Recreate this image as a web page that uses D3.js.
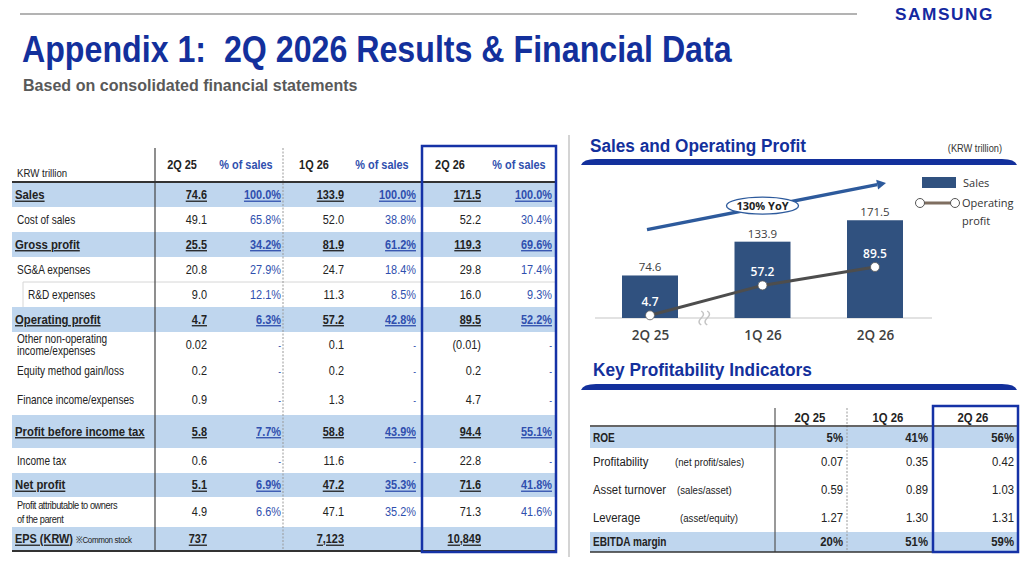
<!DOCTYPE html>
<html><head><meta charset="utf-8">
<script src="https://cdn.jsdelivr.net/npm/d3@7"></script>
<style>
body{margin:0;background:#fff;}
svg{display:block;}
.t{font-family:"Liberation Sans",Arial,sans-serif;}
.c{font-family:"Open Sans","Noto Sans",sans-serif;}
</style></head><body>
<svg id="c" width="1024" height="561"></svg>
<script>
// ---------- DATA ----------
const rowLabels = ["Sales","Cost of sales","Gross profit","SG&A expenses","R&D expenses","Operating profit",
  "Other non-operating\nincome/expenses","Equity method gain/loss","Finance income/expenses",
  "Profit before income tax","Income tax","Net profit","Profit attributable to owners\nof the parent","EPS (KRW)"];
const highlightRows = ["Sales","Gross profit","Operating profit","Profit before income tax","Net profit","EPS (KRW)"];
const tableHeaders = ["2Q 25","% of sales","1Q 26","% of sales","2Q 26","% of sales"];
const val2Q25 = ["74.6","49.1","25.5","20.8","9.0","4.7","0.02","0.2","0.9","5.8","0.6","5.1","4.9","737"];
const pct2Q25 = ["100.0%","65.8%","34.2%","27.9%","12.1%","6.3%","-","-","-","7.7%","-","6.9%","6.6%",""];
const val1Q26 = ["133.9","52.0","81.9","24.7","11.3","57.2","0.1","0.2","1.3","58.8","11.6","47.2","47.1","7,123"];
const pct1Q26 = ["100.0%","38.8%","61.2%","18.4%","8.5%","42.8%","-","-","-","43.9%","-","35.3%","35.2%",""];
const val2Q26 = ["171.5","52.2","119.3","29.8","16.0","89.5","(0.01)","0.2","4.7","94.4","22.8","71.6","71.3","10,849"];
const pct2Q26 = ["100.0%","30.4%","69.6%","17.4%","9.3%","52.2%","-","-","-","55.1%","-","41.8%","41.6%",""];

const chartPeriods = ["2Q 25","1Q 26","2Q 26"];
const sales = [74.6,133.9,171.5];
const opProfit = [4.7,57.2,89.5];
const yoyLabel = "130% YoY";

const kpiPeriods = ["2Q 25","1Q 26","2Q 26"];
const kpiLabels = ["ROE","Profitability","Asset turnover","Leverage","EBITDA margin"];
const kpiNotes = ["","(net profit/sales)","(sales/asset)","(asset/equity)",""];
const kpi2Q25 = ["5%","0.07","0.59","1.27","20%"];
const kpi1Q26 = ["41%","0.35","0.89","1.30","51%"];
const kpi2Q26 = ["56%","0.42","1.03","1.31","59%"];

// ---------- STYLE ----------
const NAVY = "#13309c", BAND = "#bfd6ee", DARK = "#222", PBLUE = "#2f4fae", BAR = "#30517f";
const svg = d3.select("#c");

function squeeze(sel, f){ sel.each(function(){ const t=d3.select(this); const x=+t.attr("x"); t.attr("transform",`translate(${x},0) scale(${f},1) translate(${-x},0)`); }); }
function fitX(sel, w){ const l = sel.node().getComputedTextLength(); squeeze(sel, w/l); return sel; }

// ---------- HEADER ----------
svg.append("line").attr("x1",20).attr("x2",857).attr("y1",14).attr("y2",14).attr("stroke","#9a9a9a").attr("stroke-width",1.5);
fitX(svg.append("text").attr("font-family","'Liberation Sans',Arial,sans-serif").attr("x",895).attr("y",20).attr("font-size",17).attr("font-weight","bold")
  .attr("letter-spacing",1.5).attr("fill","#1428a0").text("SAMSUNG"), 99);
fitX(svg.append("text").attr("font-family","'Liberation Sans',Arial,sans-serif").attr("x",22).attr("y",62).attr("font-size",36).attr("font-weight","bold")
  .attr("fill",NAVY).text("Appendix 1:  2Q 2026 Results & Financial Data").style("white-space","pre"), 710);
fitX(svg.append("text").attr("font-family","'Liberation Sans',Arial,sans-serif").attr("x",23).attr("y",91.5).attr("font-size",16).attr("font-weight","bold")
  .attr("fill","#595959").text("Based on consolidated financial statements"), 335);

// ---------- LEFT TABLE ----------
const rowH = [24,25,25,25,25,25,26,26,31,33,25,24,30,24];
const rowTops = [183]; rowH.forEach((h,i)=>rowTops.push(rowTops[i]+h));
const colRight = [207,281,344,416,481,552];
const colHead = [182,246,314,382,450,519];
const cols = [val2Q25,pct2Q25,val1Q26,pct1Q26,val2Q26,pct2Q26];
const lt = svg.append("g");

rowLabels.forEach((lab,i)=>{
  if(highlightRows.includes(lab)) lt.append("rect").attr("x",12).attr("y",rowTops[i]).attr("width",544).attr("height",rowH[i]).attr("fill",BAND);
});
const rdI = rowLabels.indexOf("R&D expenses");
lt.append("line").attr("x1",23).attr("x2",556).attr("y1",rowTops[rdI]).attr("y2",rowTops[rdI]).attr("stroke","#d6d6d6");
lt.append("line").attr("x1",23).attr("x2",23).attr("y1",rowTops[rdI]).attr("y2",rowTops[rdI+1]).attr("stroke","#d6d6d6");

lt.append("text").attr("class","t").attr("x",17).attr("y",177).attr("font-size",11.5).attr("fill",DARK).text("KRW trillion");
tableHeaders.forEach((h,j)=>{
  lt.append("text").attr("class","t").attr("x",colHead[j]).attr("y",169.5).attr("text-anchor","middle")
    .attr("font-size",13).attr("font-weight","bold").attr("fill", j%2 ? PBLUE : DARK).text(h);
});
lt.append("line").attr("x1",155).attr("x2",155).attr("y1",148).attr("y2",551).attr("stroke","#444").attr("stroke-width",1.2);
lt.append("line").attr("x1",283).attr("x2",283).attr("y1",148).attr("y2",551).attr("stroke","#999").attr("stroke-dasharray","2,1.5");
lt.append("line").attr("x1",12).attr("x2",557).attr("y1",182).attr("y2",182).attr("stroke","#333").attr("stroke-width",2);
lt.append("line").attr("x1",12).attr("x2",557).attr("y1",551).attr("y2",551).attr("stroke","#333").attr("stroke-width",2);

rowLabels.forEach((lab,i)=>{
  const hl = highlightRows.includes(lab);
  const cy = rowTops[i] + rowH[i]/2;
  const lines = lab.split("\n");
  if(lab === "EPS (KRW)"){
    const t = lt.append("text").attr("class","t").attr("x",15).attr("y",cy+4.5).attr("fill",DARK);
    t.append("tspan").attr("font-size",13).attr("font-weight","bold").attr("text-decoration","underline").text(lab);
    t.append("tspan").attr("font-size",9.5).attr("letter-spacing",-0.4).attr("dx",4).text("※Common stock");
  } else if(lines.length > 1){
    const small = lab.startsWith("Profit attributable");
    const gap = small ? 14 : 12;
    const t = lt.append("text").attr("class","t").attr("x",17).attr("y",cy - gap/2 + 4)
      .attr("font-size", small ? 11 : 12).attr("letter-spacing", small ? -0.5 : 0).attr("fill",DARK);
    lines.forEach((l,k)=>t.append("tspan").attr("x",17).attr("dy",k?gap:0).text(l));
  } else {
    lt.append("text").attr("class","t").attr("x", lab==="R&D expenses" ? 28 : (hl ? 15 : 17)).attr("y",cy+4.5)
      .attr("font-size", hl ? 13.5 : 12).attr("font-weight", hl ? "bold" : "normal")
      .attr("text-decoration", hl ? "underline" : null).attr("fill",DARK).text(lab);
  }
  cols.forEach((col,j)=>{
    const v = col[i]; if(!v) return;
    const pct = j%2===1;
    lt.append("text").attr("class","t").attr("x",colRight[j]).attr("y",cy+4.5).attr("text-anchor","end")
      .attr("font-size", v==="-" ? 10 : 13).attr("font-weight", hl ? "bold" : "normal")
      .attr("text-decoration", hl && v!=="-" ? "underline" : null)
      .attr("fill", pct ? PBLUE : DARK).text(v);
  });
});
lt.append("rect").attr("x",422).attr("y",146).attr("width",134).attr("height",406).attr("fill","none").attr("stroke","#1532a6").attr("stroke-width",2.5);

svg.append("line").attr("x1",569).attr("x2",569).attr("y1",135).attr("y2",557).attr("stroke","#d4d4d4").attr("stroke-width",2);

// ---------- SECTION TITLES ----------
function sectionBar(y){
  svg.append("path").attr("d",`M581,${y+6} Q583,${y} 596,${y} L1002,${y} Q1015,${y} 1017,${y+6} Z`).attr("fill",NAVY);
}
fitX(svg.append("text").attr("font-family","'Liberation Sans',Arial,sans-serif").attr("x",590).attr("y",152).attr("font-size",17.5).attr("font-weight","bold").attr("fill",NAVY).text("Sales and Operating Profit"), 216);
svg.append("text").attr("class","t").attr("x",1002).attr("y",152).attr("text-anchor","end").attr("font-size",11).attr("fill","#333").text("(KRW trillion)");
sectionBar(159);
fitX(svg.append("text").attr("font-family","'Liberation Sans',Arial,sans-serif").attr("x",593).attr("y",376).attr("font-size",17.5).attr("font-weight","bold").attr("fill",NAVY).text("Key Profitability Indicators"), 219);
sectionBar(384);

// ---------- CHART ----------
const xS = d3.scalePoint().domain(chartPeriods).range([650,875]);
const yS = d3.scaleLinear().domain([0,180]).range([318,215.4]);
const ch = svg.append("g").attr("class","c");
ch.append("line").attr("x1",595).attr("x2",932).attr("y1",yS(0)).attr("y2",yS(0)).attr("stroke","#d9d9d9").attr("stroke-width",1.5);
const bw = 56;
ch.selectAll("rect.bar").data(sales).join("rect").attr("class","bar")
  .attr("x",(d,i)=>xS(chartPeriods[i])-bw/2).attr("y",d=>yS(d)).attr("width",bw).attr("height",d=>yS(0)-yS(d)).attr("fill",BAR);
ch.selectAll("text.sv").data(sales).join("text").attr("class","sv")
  .attr("x",(d,i)=>xS(chartPeriods[i])).attr("y",d=>yS(d)-4).attr("text-anchor","middle")
  .attr("font-size",11.5).attr("fill","#404040").text(d=>d.toFixed(1));
const bx = (xS(chartPeriods[0])+xS(chartPeriods[1]))/2 - 2, by = yS(0);
[-3,3].forEach(o=>{
  ch.append("path").attr("d",`M${bx+o},${by-7} c3,2 3,4 0,7 s-3,5 0,7`).attr("fill","none").attr("stroke","#c4c4c4").attr("stroke-width",1.5);
});
const line = d3.line().x((d,i)=>xS(chartPeriods[i])).y(d=>yS(d));
ch.append("path").datum(opProfit).attr("d",line).attr("fill","none").attr("stroke","#4d4d4d").attr("stroke-width",3);
ch.selectAll("circle.op").data(opProfit).join("circle").attr("class","op")
  .attr("cx",(d,i)=>xS(chartPeriods[i])).attr("cy",d=>yS(d)).attr("r",4.5).attr("fill","#fff").attr("stroke","#5a5a5a").attr("stroke-width",0.8);
ch.selectAll("text.ov").data(opProfit).join("text").attr("class","ov")
  .attr("x",(d,i)=>xS(chartPeriods[i])).attr("y",d=>yS(d)-9).attr("text-anchor","middle")
  .attr("font-size",12).attr("font-weight",600).attr("fill","#fff").text(d=>d.toFixed(1));
const ax = ch.append("g").attr("transform",`translate(0,${yS(0)})`).call(d3.axisBottom(xS).tickSize(0).tickPadding(12));
ax.select(".domain").remove();
ax.selectAll("text").attr("font-size",13.5).attr("font-weight",600).attr("fill","#404040").attr("font-family","'Open Sans','Noto Sans',sans-serif");
const a0 = [xS(chartPeriods[0]) - 3, yS(155)], a1 = [xS(chartPeriods[2]) + 11, yS(237)];
const ang = Math.atan2(a1[1]-a0[1], a1[0]-a0[0]);
const aEnd = [a1[0]-9*Math.cos(ang), a1[1]-9*Math.sin(ang)];
ch.append("line").attr("x1",a0[0]).attr("y1",a0[1]).attr("x2",aEnd[0]).attr("y2",aEnd[1]).attr("stroke","#2d5a9c").attr("stroke-width",3.5);
const pp = w=>[aEnd[0]+w*Math.sin(ang), aEnd[1]-w*Math.cos(ang)];
ch.append("path").attr("d",`M${a1[0]},${a1[1]} L${pp(5).join(",")} L${pp(-5).join(",")} Z`).attr("fill","#2d5a9c");
const ex = xS(chartPeriods[1]), ey = yS(197);
ch.append("ellipse").attr("cx",ex).attr("cy",ey).attr("rx",36).attr("ry",8.5).attr("fill","#fff").attr("stroke","#2d5a9c").attr("stroke-width",1.3);
ch.append("text").attr("x",ex).attr("y",ey+4).attr("text-anchor","middle").attr("font-size",11).attr("font-weight","bold").attr("fill","#222").text(yoyLabel);
ch.append("rect").attr("x",922).attr("y",177).attr("width",34).attr("height",11).attr("fill",BAR);
ch.append("text").attr("x",963).attr("y",187).attr("font-size",11).attr("fill","#333").text("Sales");
ch.append("line").attr("x1",920).attr("x2",955).attr("y1",203).attr("y2",203).attr("stroke","#7f6e60").attr("stroke-width",3);
[920,955].forEach(x=>ch.append("circle").attr("cx",x).attr("cy",203).attr("r",4.5).attr("fill","#fff").attr("stroke","#555").attr("stroke-width",1));
ch.append("text").attr("x",962).attr("y",207).attr("font-size",11).attr("fill","#333").text("Operating");
ch.append("text").attr("x",962).attr("y",225).attr("font-size",11).attr("fill","#333").text("profit");

// ---------- KPI TABLE ----------
const kt = svg.append("g");
const kRowC = [437.5,462,490,518,542];
const kBand = {"ROE":[427,21],"EBITDA margin":[532,20]};
const kRight = [843,928,1014], kHead = [810,888,973];
const kCols = [kpi2Q25,kpi1Q26,kpi2Q26];
kpiLabels.forEach((lab,i)=>{ if(kBand[lab]) kt.append("rect").attr("x",590).attr("y",kBand[lab][0]).attr("width",427).attr("height",kBand[lab][1]).attr("fill",BAND); });
kt.append("line").attr("x1",775).attr("x2",775).attr("y1",408).attr("y2",552).attr("stroke","#555").attr("stroke-width",1.2);
kt.append("line").attr("x1",847).attr("x2",847).attr("y1",408).attr("y2",552).attr("stroke","#999").attr("stroke-dasharray","2,1.5");
kt.append("line").attr("x1",590).attr("x2",1018).attr("y1",426).attr("y2",426).attr("stroke","#333").attr("stroke-width",1.6);
kt.append("line").attr("x1",590).attr("x2",1018).attr("y1",552).attr("y2",552).attr("stroke","#333").attr("stroke-width",1.6);
kpiPeriods.forEach((p,j)=>kt.append("text").attr("class","t").attr("x",kHead[j]).attr("y",422.5).attr("text-anchor","middle")
  .attr("font-size",13.5).attr("font-weight","bold").attr("fill",DARK).text(p));
const noteX = [0,675,677,680,0];
kpiLabels.forEach((lab,i)=>{
  const hl = !!kBand[lab];
  kt.append("text").attr("class","t").attr("x",593).attr("y",kRowC[i]+4.5).attr("font-size", hl ? 12 : 13.5)
    .attr("font-weight", hl ? "bold" : "normal").attr("fill",DARK).text(lab);
  if(kpiNotes[i]) kt.append("text").attr("class","t").attr("x",noteX[i]).attr("y",kRowC[i]+4.5).attr("font-size",11.5).attr("fill",DARK).text(kpiNotes[i]);
  kCols.forEach((col,j)=>kt.append("text").attr("class","t").attr("x",kRight[j]).attr("y",kRowC[i]+4.5).attr("text-anchor","end")
    .attr("font-size",13.5).attr("font-weight", hl ? "bold" : "normal").attr("fill",DARK).text(col[i]));
});
kt.append("rect").attr("x",933).attr("y",406).attr("width",85).attr("height",146).attr("fill","none").attr("stroke","#1532a6").attr("stroke-width",2.5);

// condense table text to match the narrow original typeface
squeeze(svg.selectAll("text.t"), 0.84);
</script>
</body></html>
